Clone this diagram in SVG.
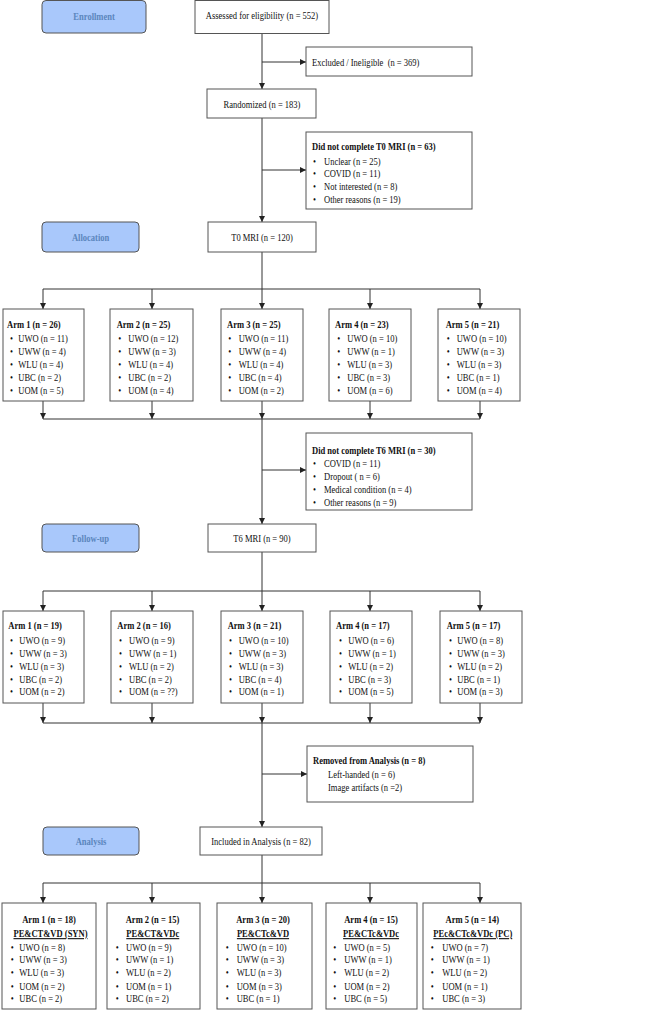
<svg xmlns="http://www.w3.org/2000/svg" width="651" height="1010" viewBox="0 0 651 1010">
<style>
.bx{fill:#fff;stroke:#555;stroke-width:1}
.ph{fill:#a9c8fb;stroke:#555;stroke-width:1}
.ln{fill:none;stroke:#333;stroke-width:1}
.t{font-family:"Liberation Serif","Times New Roman",serif;font-size:11px;fill:#111;transform-box:fill-box;transform:scaleX(.775)}
.l{transform-origin:0 50%}
.m{text-anchor:middle;transform-origin:50% 50%}
.b{font-weight:bold}
.pt{fill:#5b86bd;font-weight:bold}
.u{text-decoration:underline}
.pre{white-space:pre}
</style>
<defs>
<marker id="ar" markerUnits="userSpaceOnUse" markerWidth="6" markerHeight="6" refX="6" refY="3" orient="auto">
<path d="M0,0 L6,3 L0,6 z" fill="#222"/>
</marker>
</defs>
<rect width="651" height="1010" fill="#fff"/>

<g id="connectors">
<path class="ln" d="M262,33 V89" marker-end="url(#ar)"/>
<path class="ln" d="M262,62 H306" marker-end="url(#ar)"/>
<path class="ln" d="M262,118 V222" marker-end="url(#ar)"/>
<path class="ln" d="M262,170 H306" marker-end="url(#ar)"/>
<path class="ln" d="M262,252 V289 M43,289 H480"/>
<path class="ln" d="M43,289 V309" marker-end="url(#ar)"/>
<path class="ln" d="M152,289 V309" marker-end="url(#ar)"/>
<path class="ln" d="M262,289 V309" marker-end="url(#ar)"/>
<path class="ln" d="M370,289 V309" marker-end="url(#ar)"/>
<path class="ln" d="M480,289 V309" marker-end="url(#ar)"/>
<path class="ln" d="M43,401 V419" marker-end="url(#ar)"/>
<path class="ln" d="M152,401 V419" marker-end="url(#ar)"/>
<path class="ln" d="M262,401 V419" marker-end="url(#ar)"/>
<path class="ln" d="M370,401 V419" marker-end="url(#ar)"/>
<path class="ln" d="M480,401 V419" marker-end="url(#ar)"/>
<path class="ln" d="M43,419 H480"/>
<path class="ln" d="M262,419 V524" marker-end="url(#ar)"/>
<path class="ln" d="M262,470 H306" marker-end="url(#ar)"/>
<path class="ln" d="M262,552 V591 M43,591 H480"/>
<path class="ln" d="M43,591 V611" marker-end="url(#ar)"/>
<path class="ln" d="M152,591 V611" marker-end="url(#ar)"/>
<path class="ln" d="M262,591 V611" marker-end="url(#ar)"/>
<path class="ln" d="M370,591 V611" marker-end="url(#ar)"/>
<path class="ln" d="M480,591 V611" marker-end="url(#ar)"/>
<path class="ln" d="M43,703 V723" marker-end="url(#ar)"/>
<path class="ln" d="M152,703 V723" marker-end="url(#ar)"/>
<path class="ln" d="M262,703 V723" marker-end="url(#ar)"/>
<path class="ln" d="M370,703 V723" marker-end="url(#ar)"/>
<path class="ln" d="M480,703 V723" marker-end="url(#ar)"/>
<path class="ln" d="M43,723 H480"/>
<path class="ln" d="M262,723 V827" marker-end="url(#ar)"/>
<path class="ln" d="M262,774 H307" marker-end="url(#ar)"/>
<path class="ln" d="M262,855 V883 M43,883 H480"/>
<path class="ln" d="M43,883 V903" marker-end="url(#ar)"/>
<path class="ln" d="M152,883 V903" marker-end="url(#ar)"/>
<path class="ln" d="M262,883 V903" marker-end="url(#ar)"/>
<path class="ln" d="M370,883 V903" marker-end="url(#ar)"/>
<path class="ln" d="M480,883 V903" marker-end="url(#ar)"/>
</g>

<g id="phase-enrollment"><rect class="ph" x="42" y="0.5" width="104" height="32.5" rx="4"/><text class="t m pt" x="94" y="20">Enrollment</text></g>
<g id="phase-allocation"><rect class="ph" x="42" y="222" width="97" height="30" rx="4"/><text class="t m pt" x="90.5" y="241">Allocation</text></g>
<g id="phase-followup"><rect class="ph" x="42" y="524" width="97" height="28" rx="4"/><text class="t m pt" x="90.5" y="542">Follow-up</text></g>
<g id="phase-analysis"><rect class="ph" x="43" y="827" width="96" height="28" rx="4"/><text class="t m pt" x="91" y="845">Analysis</text></g>

<g id="assessed"><rect class="bx" x="195" y="0.5" width="134" height="33"/><text class="t m" x="262" y="19.5">Assessed for eligibility (n = 552)</text></g>
<g id="excluded"><rect class="bx" x="306" y="47" width="166" height="29"/><text class="t l pre" x="312" y="66">Excluded / Ineligible  (n = 369)</text></g>
<g id="randomized"><rect class="bx" x="207" y="89" width="109" height="29"/><text class="t m" x="262" y="108">Randomized (n = 183)</text></g>
<g id="dnc-t0"><rect class="bx" x="306" y="132" width="166" height="77"/>
<text class="t l b" x="312" y="150">Did not complete T0 MRI (n = 63)</text>
<text class="t l" x="313" y="165">•</text><text class="t l" x="324" y="165">Unclear (n = 25)</text>
<text class="t l" x="313" y="177.5">•</text><text class="t l" x="324" y="177.5">COVID (n = 11)</text>
<text class="t l" x="313" y="190">•</text><text class="t l" x="324" y="190">Not interested (n = 8)</text>
<text class="t l" x="313" y="203">•</text><text class="t l" x="324" y="203">Other reasons (n = 19)</text>
</g>
<g id="t0mri"><rect class="bx" x="208" y="222" width="108" height="30"/><text class="t m" x="262" y="241">T0 MRI (n = 120)</text></g>

<g id="a1-arm1"><rect class="bx" x="3" y="309" width="81" height="92"/>
<text class="t l b" x="7" y="328">Arm 1 (n = 26)</text>
<text class="t l" x="10" y="342">•</text><text class="t l" x="18.3" y="342">UWO (n = 11)</text>
<text class="t l" x="10" y="355">•</text><text class="t l" x="18.3" y="355">UWW (n = 4)</text>
<text class="t l" x="10" y="368">•</text><text class="t l" x="18.3" y="368">WLU (n = 4)</text>
<text class="t l" x="10" y="381">•</text><text class="t l" x="18.3" y="381">UBC (n = 2)</text>
<text class="t l" x="10" y="394">•</text><text class="t l" x="18.3" y="394">UOM (n = 5)</text>
</g>
<g id="a1-arm2"><rect class="bx" x="110" y="309" width="83" height="92"/>
<text class="t l b" x="116.7" y="328">Arm 2 (n = 25)</text>
<text class="t l" x="118.3" y="342">•</text><text class="t l" x="128.3" y="342">UWO (n = 12)</text>
<text class="t l" x="118.3" y="355">•</text><text class="t l" x="128.3" y="355">UWW (n = 3)</text>
<text class="t l" x="118.3" y="368">•</text><text class="t l" x="128.3" y="368">WLU (n = 4)</text>
<text class="t l" x="118.3" y="381">•</text><text class="t l" x="128.3" y="381">UBC (n = 2)</text>
<text class="t l" x="118.3" y="394">•</text><text class="t l" x="128.3" y="394">UOM (n = 4)</text>
</g>
<g id="a1-arm3"><rect class="bx" x="221" y="309" width="82" height="92"/>
<text class="t l b" x="227" y="328">Arm 3 (n = 25)</text>
<text class="t l" x="228.3" y="342">•</text><text class="t l" x="238.7" y="342">UWO (n = 11)</text>
<text class="t l" x="228.3" y="355">•</text><text class="t l" x="238.7" y="355">UWW (n = 4)</text>
<text class="t l" x="228.3" y="368">•</text><text class="t l" x="238.7" y="368">WLU (n = 4)</text>
<text class="t l" x="228.3" y="381">•</text><text class="t l" x="238.7" y="381">UBC (n = 4)</text>
<text class="t l" x="228.3" y="394">•</text><text class="t l" x="238.7" y="394">UOM (n = 2)</text>
</g>
<g id="a1-arm4"><rect class="bx" x="329" y="309" width="82" height="92"/>
<text class="t l b" x="335" y="328">Arm 4 (n = 23)</text>
<text class="t l" x="337.3" y="342">•</text><text class="t l" x="347.3" y="342">UWO (n = 10)</text>
<text class="t l" x="337.3" y="355">•</text><text class="t l" x="347.3" y="355">UWW (n = 1)</text>
<text class="t l" x="337.3" y="368">•</text><text class="t l" x="347.3" y="368">WLU (n = 3)</text>
<text class="t l" x="337.3" y="381">•</text><text class="t l" x="347.3" y="381">UBC (n = 3)</text>
<text class="t l" x="337.3" y="394">•</text><text class="t l" x="347.3" y="394">UOM (n = 6)</text>
</g>
<g id="a1-arm5"><rect class="bx" x="438" y="309" width="82" height="92"/>
<text class="t l b" x="445.7" y="328">Arm 5 (n = 21)</text>
<text class="t l" x="446.7" y="342">•</text><text class="t l" x="456.7" y="342">UWO (n = 10)</text>
<text class="t l" x="446.7" y="355">•</text><text class="t l" x="456.7" y="355">UWW (n = 3)</text>
<text class="t l" x="446.7" y="368">•</text><text class="t l" x="456.7" y="368">WLU (n = 3)</text>
<text class="t l" x="446.7" y="381">•</text><text class="t l" x="456.7" y="381">UBC (n = 1)</text>
<text class="t l" x="446.7" y="394">•</text><text class="t l" x="456.7" y="394">UOM (n = 4)</text>
</g>

<g id="dnc-t6"><rect class="bx" x="306" y="433" width="166" height="77"/>
<text class="t l b" x="312" y="454">Did not complete T6 MRI (n = 30)</text>
<text class="t l" x="313" y="467">•</text><text class="t l" x="324" y="467">COVID (n = 11)</text>
<text class="t l" x="313" y="480">•</text><text class="t l" x="324" y="480">Dropout ( n = 6)</text>
<text class="t l" x="313" y="493">•</text><text class="t l" x="324" y="493">Medical condition (n = 4)</text>
<text class="t l" x="313" y="506">•</text><text class="t l" x="324" y="506">Other reasons (n = 9)</text>
</g>
<g id="t6mri"><rect class="bx" x="208" y="524" width="108" height="28"/><text class="t m" x="262" y="542">T6 MRI (n = 90)</text></g>

<g id="a2-arm1"><rect class="bx" x="3" y="611" width="81" height="92"/>
<text class="t l b" x="8.3" y="629">Arm 1 (n = 19)</text>
<text class="t l" x="10" y="644.5">•</text><text class="t l" x="19.3" y="644.5">UWO (n = 9)</text>
<text class="t l" x="10" y="657">•</text><text class="t l" x="19.3" y="657">UWW (n = 3)</text>
<text class="t l" x="10" y="670">•</text><text class="t l" x="19.3" y="670">WLU (n = 3)</text>
<text class="t l" x="10" y="683">•</text><text class="t l" x="19.3" y="683">UBC (n = 2)</text>
<text class="t l" x="10" y="695.5">•</text><text class="t l" x="19.3" y="695.5">UOM (n = 2)</text>
</g>
<g id="a2-arm2"><rect class="bx" x="111" y="611" width="82" height="92"/>
<text class="t l b" x="117.3" y="629">Arm 2 (n = 16)</text>
<text class="t l" x="119" y="644.5">•</text><text class="t l" x="129" y="644.5">UWO (n = 9)</text>
<text class="t l" x="119" y="657">•</text><text class="t l" x="129" y="657">UWW (n = 1)</text>
<text class="t l" x="119" y="670">•</text><text class="t l" x="129" y="670">WLU (n = 2)</text>
<text class="t l" x="119" y="683">•</text><text class="t l" x="129" y="683">UBC (n = 2)</text>
<text class="t l" x="119" y="695.5">•</text><text class="t l" x="129" y="695.5">UOM (n = ??)</text>
</g>
<g id="a2-arm3"><rect class="bx" x="221" y="611" width="82" height="92"/>
<text class="t l b" x="227.7" y="629">Arm 3 (n = 21)</text>
<text class="t l" x="229" y="644.5">•</text><text class="t l" x="238.7" y="644.5">UWO (n = 10)</text>
<text class="t l" x="229" y="657">•</text><text class="t l" x="238.7" y="657">UWW (n = 3)</text>
<text class="t l" x="229" y="670">•</text><text class="t l" x="238.7" y="670">WLU (n = 3)</text>
<text class="t l" x="229" y="683">•</text><text class="t l" x="238.7" y="683">UBC (n = 4)</text>
<text class="t l" x="229" y="695.5">•</text><text class="t l" x="238.7" y="695.5">UOM (n = 1)</text>
</g>
<g id="a2-arm4"><rect class="bx" x="330" y="611" width="82" height="92"/>
<text class="t l b" x="336" y="629">Arm 4 (n = 17)</text>
<text class="t l" x="339" y="644.5">•</text><text class="t l" x="348.3" y="644.5">UWO (n = 6)</text>
<text class="t l" x="339" y="657">•</text><text class="t l" x="348.3" y="657">UWW (n = 1)</text>
<text class="t l" x="339" y="670">•</text><text class="t l" x="348.3" y="670">WLU (n = 2)</text>
<text class="t l" x="339" y="683">•</text><text class="t l" x="348.3" y="683">UBC (n = 3)</text>
<text class="t l" x="339" y="695.5">•</text><text class="t l" x="348.3" y="695.5">UOM (n = 5)</text>
</g>
<g id="a2-arm5"><rect class="bx" x="440" y="611" width="82" height="92"/>
<text class="t l b" x="446.7" y="629">Arm 5 (n = 17)</text>
<text class="t l" x="449" y="644.5">•</text><text class="t l" x="457.3" y="644.5">UWO (n = 8)</text>
<text class="t l" x="449" y="657">•</text><text class="t l" x="457.3" y="657">UWW (n = 3)</text>
<text class="t l" x="449" y="670">•</text><text class="t l" x="457.3" y="670">WLU (n = 2)</text>
<text class="t l" x="449" y="683">•</text><text class="t l" x="457.3" y="683">UBC (n = 1)</text>
<text class="t l" x="449" y="695.5">•</text><text class="t l" x="457.3" y="695.5">UOM (n = 3)</text>
</g>

<g id="removed"><rect class="bx" x="307" y="746" width="166" height="56"/>
<text class="t l b" x="313" y="764">Removed from Analysis (n = 8)</text>
<text class="t l" x="328" y="778">Left-handed (n = 6)</text>
<text class="t l" x="328" y="791">Image artifacts (n =2)</text>
</g>
<g id="included"><rect class="bx" x="200" y="827" width="122" height="28"/><text class="t m" x="261" y="845">Included in Analysis (n = 82)</text></g>

<g id="a3-arm1"><rect class="bx" x="2" y="903" width="94" height="106"/>
<text class="t m b" x="49" y="923">Arm 1 (n = 18)</text>
<text class="t m b u" x="50.5" y="937">PE&amp;CT&amp;VD (SYN)</text>
<text class="t l" x="10.7" y="951">•</text><text class="t l" x="19.3" y="951">UWO (n = 8)</text>
<text class="t l" x="10.7" y="963.5">•</text><text class="t l" x="19.3" y="963.5">UWW (n = 3)</text>
<text class="t l" x="10.7" y="976.5">•</text><text class="t l" x="19.3" y="976.5">WLU (n = 3)</text>
<text class="t l" x="10.7" y="990">•</text><text class="t l" x="19.3" y="990">UOM (n = 2)</text>
<text class="t l" x="10.7" y="1002.5">•</text><text class="t l" x="19.3" y="1002.5">UBC (n = 2)</text>
</g>
<g id="a3-arm2"><rect class="bx" x="107" y="903" width="93" height="106"/>
<text class="t m b" x="152.5" y="923">Arm 2 (n = 15)</text>
<text class="t m b u" x="152.7" y="937">PE&amp;CT&amp;VDc</text>
<text class="t l" x="115.7" y="951">•</text><text class="t l" x="126" y="951">UWO (n = 9)</text>
<text class="t l" x="115.7" y="963.5">•</text><text class="t l" x="126" y="963.5">UWW (n = 1)</text>
<text class="t l" x="115.7" y="976.5">•</text><text class="t l" x="126" y="976.5">WLU (n = 2)</text>
<text class="t l" x="115.7" y="990">•</text><text class="t l" x="126" y="990">UOM (n = 1)</text>
<text class="t l" x="115.7" y="1002.5">•</text><text class="t l" x="126" y="1002.5">UBC (n = 2)</text>
</g>
<g id="a3-arm3"><rect class="bx" x="217" y="903" width="95" height="106"/>
<text class="t m b" x="263" y="923">Arm 3 (n = 20)</text>
<text class="t m b u" x="263" y="937">PE&amp;CTc&amp;VD</text>
<text class="t l" x="225.7" y="951">•</text><text class="t l" x="236.7" y="951">UWO (n = 10)</text>
<text class="t l" x="225.7" y="963.5">•</text><text class="t l" x="236.7" y="963.5">UWW (n = 3)</text>
<text class="t l" x="225.7" y="976.5">•</text><text class="t l" x="236.7" y="976.5">WLU (n = 3)</text>
<text class="t l" x="225.7" y="990">•</text><text class="t l" x="236.7" y="990">UOM (n = 3)</text>
<text class="t l" x="225.7" y="1002.5">•</text><text class="t l" x="236.7" y="1002.5">UBC (n = 1)</text>
</g>
<g id="a3-arm4"><rect class="bx" x="326" y="903" width="91" height="106"/>
<text class="t m b" x="371" y="923">Arm 4 (n = 15)</text>
<text class="t m b u" x="371" y="937">PE&amp;CTc&amp;VDc</text>
<text class="t l" x="333.3" y="951">•</text><text class="t l" x="344.3" y="951">UWO (n = 5)</text>
<text class="t l" x="333.3" y="963.5">•</text><text class="t l" x="344.3" y="963.5">UWW (n = 1)</text>
<text class="t l" x="333.3" y="976.5">•</text><text class="t l" x="344.3" y="976.5">WLU (n = 2)</text>
<text class="t l" x="333.3" y="990">•</text><text class="t l" x="344.3" y="990">UOM (n = 2)</text>
<text class="t l" x="333.3" y="1002.5">•</text><text class="t l" x="344.3" y="1002.5">UBC (n = 5)</text>
</g>
<g id="a3-arm5"><rect class="bx" x="423" y="903" width="98" height="106"/>
<text class="t m b" x="472.3" y="923">Arm 5 (n = 14)</text>
<text class="t m b u" x="472.8" y="937">PEc&amp;CTc&amp;VDc (PC)</text>
<text class="t l" x="430.7" y="951">•</text><text class="t l" x="442.3" y="951">UWO (n = 7)</text>
<text class="t l" x="430.7" y="963.5">•</text><text class="t l" x="442.3" y="963.5">UWW (n = 1)</text>
<text class="t l" x="430.7" y="976.5">•</text><text class="t l" x="442.3" y="976.5">WLU (n = 2)</text>
<text class="t l" x="430.7" y="990">•</text><text class="t l" x="442.3" y="990">UOM (n = 1)</text>
<text class="t l" x="430.7" y="1002.5">•</text><text class="t l" x="442.3" y="1002.5">UBC (n = 3)</text>
</g>
</svg>
